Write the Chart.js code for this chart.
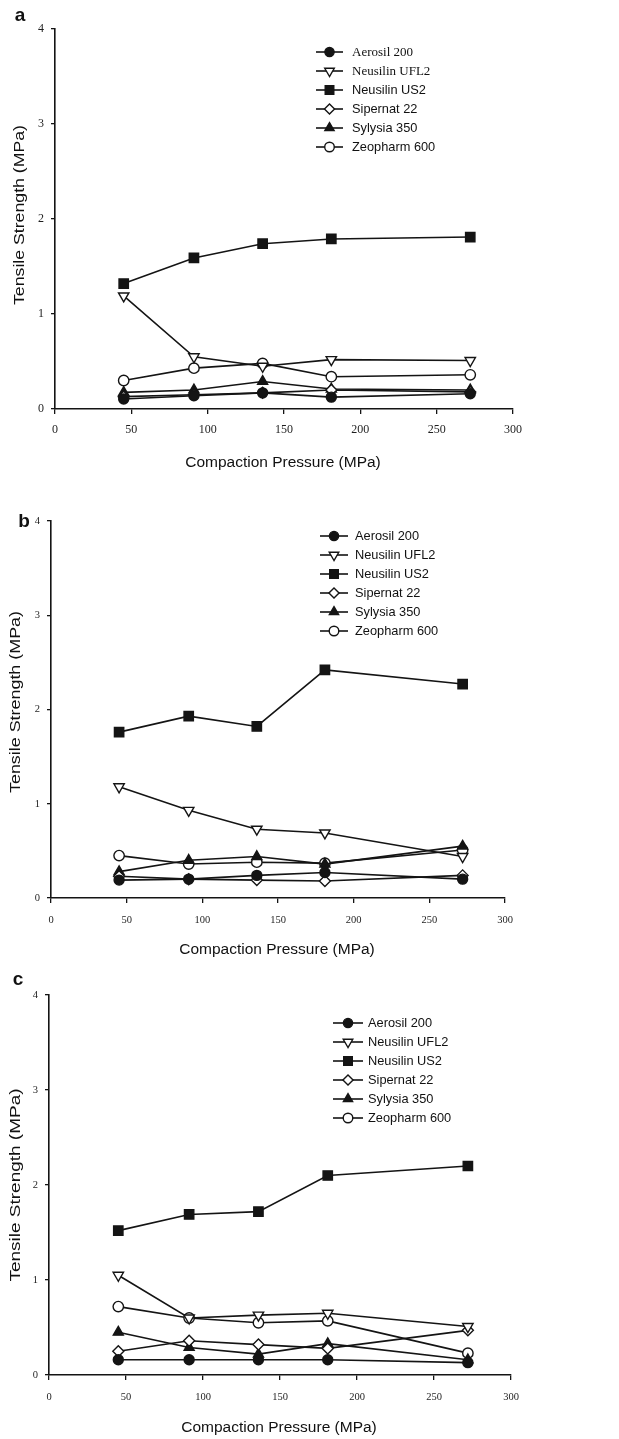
<!DOCTYPE html>
<html>
<head>
<meta charset="utf-8">
<script src="https://cdn.jsdelivr.net/npm/chart.js@4.4.1/dist/chart.umd.min.js"></script>
<style>
  html, body { margin: 0; padding: 0; background: #fff; }
  #wrap { position: relative; width: 619px; height: 1439px; overflow: hidden; }
  canvas { position: absolute; left: 0; }
</style>
</head>
<body>
<div id="wrap">
  <canvas id="pa" width="619" height="480" style="top:0px"></canvas>
  <canvas id="pb" width="619" height="480" style="top:480px"></canvas>
  <canvas id="pc" width="619" height="479" style="top:960px"></canvas>
</div>
<script>
// ---------------- DATA ----------------
const pressure = [45, 91, 136, 181, 272];
const seriesNames = ['Aerosil 200', 'Neusilin UFL2', 'Neusilin US2', 'Sipernat 22', 'Sylysia 350', 'Zeopharm 600'];
const xTicks = [0, 50, 100, 150, 200, 250, 300];
const yTicks = [0, 1, 2, 3, 4];
const xTitle = 'Compaction Pressure (MPa)';
const yTitle = 'Tensile Strength (MPa)';
const panelLetters = ['a', 'b', 'c'];

// Panel a
const aAerosil  = [0.105, 0.14, 0.17, 0.125, 0.16];
const aUFL2     = [1.19, 0.55, 0.45, 0.52, 0.51];
const aUS2      = [1.32, 1.59, 1.74, 1.79, 1.81];
const aSipernat = [0.13, 0.15, 0.17, 0.20, 0.18];
const aSylysia  = [0.175, 0.20, 0.29, 0.21, 0.20];
const aZeopharm = [0.30, 0.43, 0.48, 0.34, 0.36];
// Panel b
const bAerosil  = [0.19, 0.20, 0.24, 0.27, 0.20];
const bUFL2     = [1.18, 0.93, 0.73, 0.69, 0.44];
const bUS2      = [1.76, 1.93, 1.82, 2.42, 2.27];
const bSipernat = [0.23, 0.20, 0.19, 0.18, 0.24];
const bSylysia  = [0.28, 0.40, 0.44, 0.36, 0.55];
const bZeopharm = [0.45, 0.36, 0.38, 0.37, 0.51];
// Panel c
const cAerosil  = [0.16, 0.16, 0.16, 0.16, 0.13];
const cUFL2     = [1.05, 0.60, 0.63, 0.65, 0.51];
const cUS2      = [1.52, 1.69, 1.72, 2.10, 2.20];
const cSipernat = [0.25, 0.36, 0.32, 0.28, 0.47];
const cSylysia  = [0.45, 0.29, 0.22, 0.33, 0.16];
const cZeopharm = [0.72, 0.60, 0.55, 0.57, 0.23];

// ---------------- STYLES ----------------
const INK = '#141414';
const markerStyles = [
  { pointStyle: 'circle',   radius: 5.0, rotation: 0,   fill: INK },
  { pointStyle: 'triangle', radius: 6.0, rotation: 180, fill: '#fff' },
  { pointStyle: 'rect',     radius: 6.6, rotation: 0,   fill: INK },
  { pointStyle: 'rectRot',  radius: 5.5, rotation: 0,   fill: '#fff' },
  { pointStyle: 'triangle', radius: 5.8, rotation: 0,   fill: INK },
  { pointStyle: 'circle',   radius: 5.2, rotation: 0,   fill: '#fff' }
];
const SANS = '"Liberation Sans", Arial, sans-serif';
const SERIF = '"Liberation Serif", "Times New Roman", serif';

const panels = [
  { id: 'pa', H: 480, left: 55, top: 29, right: 513, bottom: 409, tickSize: 12, tickPad: 7, xPad: 9,
    yTitleX: 20, yTitleY: 215, yTitleLen: 180, xTitleX: 283, xTitleY: 463,
    letterX: 20, letterY: 16, legX0: 316, legX1: 343, legTX: 352, legY0: 52, legDY: 19,
    legendSerif: [true, true, false, false, false, false],
    series: [aAerosil, aUFL2, aUS2, aSipernat, aSylysia, aZeopharm] },
  { id: 'pb', H: 480, left: 51, top: 41, right: 505, bottom: 418, tickSize: 10.5, tickPad: 7, xPad: 11,
    yTitleX: 15.5, yTitleY: 222, yTitleLen: 182, xTitleX: 277, xTitleY: 470,
    letterX: 24, letterY: 42, legX0: 320, legX1: 348, legTX: 355, legY0: 56, legDY: 19,
    legendSerif: [false, false, false, false, false, false],
    series: [bAerosil, bUFL2, bUS2, bSipernat, bSylysia, bZeopharm] },
  { id: 'pc', H: 479, left: 49, top: 35, right: 511, bottom: 415, tickSize: 10.5, tickPad: 7, xPad: 11,
    yTitleX: 16, yTitleY: 225, yTitleLen: 193, xTitleX: 279, xTitleY: 468,
    letterX: 18, letterY: 20, legX0: 333, legX1: 363, legTX: 368, legY0: 63, legDY: 19,
    legendSerif: [false, false, false, false, false, false],
    series: [cAerosil, cUFL2, cUS2, cSipernat, cSylysia, cZeopharm] }
];

function decorPlugin(g, letter) {
  return {
    id: 'decor',
    afterDraw(chart) {
      const ctx = chart.ctx;
      ctx.save();
      ctx.fillStyle = '#111';
      // panel letter
      ctx.font = 'bold 19px ' + SANS;
      ctx.textAlign = 'center';
      ctx.textBaseline = 'middle';
      ctx.fillText(letter, g.letterX, g.letterY);
      // x title
      ctx.font = '15.5px ' + SANS;
      ctx.fillText(xTitle, g.xTitleX, g.xTitleY);
      // y title (rotated, stretched along its length)
      ctx.save();
      ctx.translate(g.yTitleX, g.yTitleY);
      ctx.rotate(-Math.PI / 2);
      ctx.font = '15.5px ' + SANS;
      const w = ctx.measureText(yTitle).width;
      ctx.scale(g.yTitleLen / w, 1);
      ctx.fillText(yTitle, 0, 0);
      ctx.restore();
      // legend
      chart.data.datasets.forEach((ds, i) => {
        const y = g.legY0 + i * g.legDY;
        ctx.strokeStyle = INK;
        ctx.lineWidth = 1.6;
        ctx.beginPath();
        ctx.moveTo(g.legX0, y);
        ctx.lineTo(g.legX1, y);
        ctx.stroke();
        const m = markerStyles[i];
        ctx.fillStyle = m.fill;
        ctx.strokeStyle = INK;
        ctx.lineWidth = 1.4;
        Chart.helpers.drawPoint(ctx, { pointStyle: m.pointStyle, radius: m.radius * 0.92, rotation: m.rotation, borderWidth: 1.4 },
          (g.legX0 + g.legX1) / 2, y);
        ctx.fillStyle = '#111';
        ctx.textAlign = 'left';
        ctx.textBaseline = 'middle';
        ctx.font = (g.legendSerif[i] ? '13px ' + SERIF : '12.8px ' + SANS);
        ctx.fillText(ds.label, g.legTX, y + 0.5);
      });
      ctx.restore();
    }
  };
}

panels.forEach((g, pi) => {
  const W = 619;
  const datasets = g.series.map((vals, i) => {
    const m = markerStyles[i];
    return {
      label: seriesNames[i],
      data: pressure.map((x, k) => ({ x: x, y: vals[k] })),
      borderColor: INK,
      borderWidth: 1.6,
      backgroundColor: m.fill,
      pointBackgroundColor: m.fill,
      pointBorderColor: INK,
      pointBorderWidth: 1.4,
      pointStyle: m.pointStyle,
      pointRadius: m.radius,
      pointRotation: m.rotation,
      tension: 0,
      fill: false,
      clip: false
    };
  });
  new Chart(document.getElementById(g.id), {
    type: 'line',
    data: { datasets: datasets },
    options: {
      responsive: false,
      animation: false,
      devicePixelRatio: 1,
      events: [],
      layout: { padding: { left: 0, top: g.top, right: W - g.right, bottom: 0 } },
      plugins: { legend: { display: false }, tooltip: { enabled: false }, title: { display: false } },
      scales: {
        x: {
          type: 'linear', min: 0, max: 300,
          afterBuildTicks: s => { s.ticks = xTicks.map(v => ({ value: v })); },
          afterFit: s => { s.height = g.H - g.bottom; },
          grid: { drawOnChartArea: false, drawTicks: true, tickLength: 5, color: INK, lineWidth: 1.3 },
          border: { display: true, color: INK, width: 1.6 },
          ticks: { color: '#1e1e1e', font: { family: SERIF, size: g.tickSize }, padding: g.xPad, maxRotation: 0, autoSkip: false }
        },
        y: {
          type: 'linear', min: 0, max: 4,
          afterBuildTicks: s => { s.ticks = yTicks.map(v => ({ value: v })); },
          afterFit: s => { s.width = g.left; },
          grid: { drawOnChartArea: false, drawTicks: true, tickLength: 4, color: INK, lineWidth: 1.3 },
          border: { display: true, color: INK, width: 1.6 },
          ticks: { color: '#1e1e1e', font: { family: SERIF, size: g.tickSize }, padding: g.tickPad, autoSkip: false }
        }
      }
    },
    plugins: [decorPlugin(g, panelLetters[pi])]
  });
});
</script>
</body>
</html>
